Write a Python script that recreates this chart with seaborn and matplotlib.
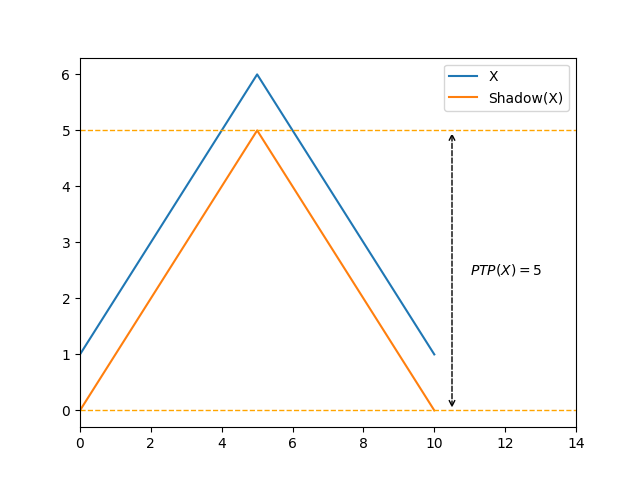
import matplotlib
matplotlib.use("Agg")
import matplotlib.pyplot as plt
import seaborn as sns

t = [0, 1, 2, 3, 4, 5, 6, 7, 8, 9, 10]
x_vals = [1, 2, 3, 4, 5, 6, 5, 4, 3, 2, 1]
shadow_vals = [0, 1, 2, 3, 4, 5, 4, 3, 2, 1, 0]
ptp_low, ptp_high = 0, 5

fig, ax = plt.subplots(figsize=(6.4, 4.8), dpi=100)
sns.lineplot(x=t, y=x_vals, ax=ax, label="X", color="#1f77b4")
sns.lineplot(x=t, y=shadow_vals, ax=ax, label="Shadow(X)", color="#ff7f0e")
ax.axhline(ptp_low, color="orange", linestyle="--", linewidth=1)
ax.axhline(ptp_high, color="orange", linestyle="--", linewidth=1)
ax.annotate("", xy=(10.5, ptp_high), xytext=(10.5, ptp_low),
            arrowprops=dict(arrowstyle="<->", linestyle="--", color="black"))
ax.text(11, 2.5, r"$PTP(X) = 5$", va="center")
ax.set_xlim(0, 14)
ax.legend(loc="upper right")
fig.savefig("out.png")
